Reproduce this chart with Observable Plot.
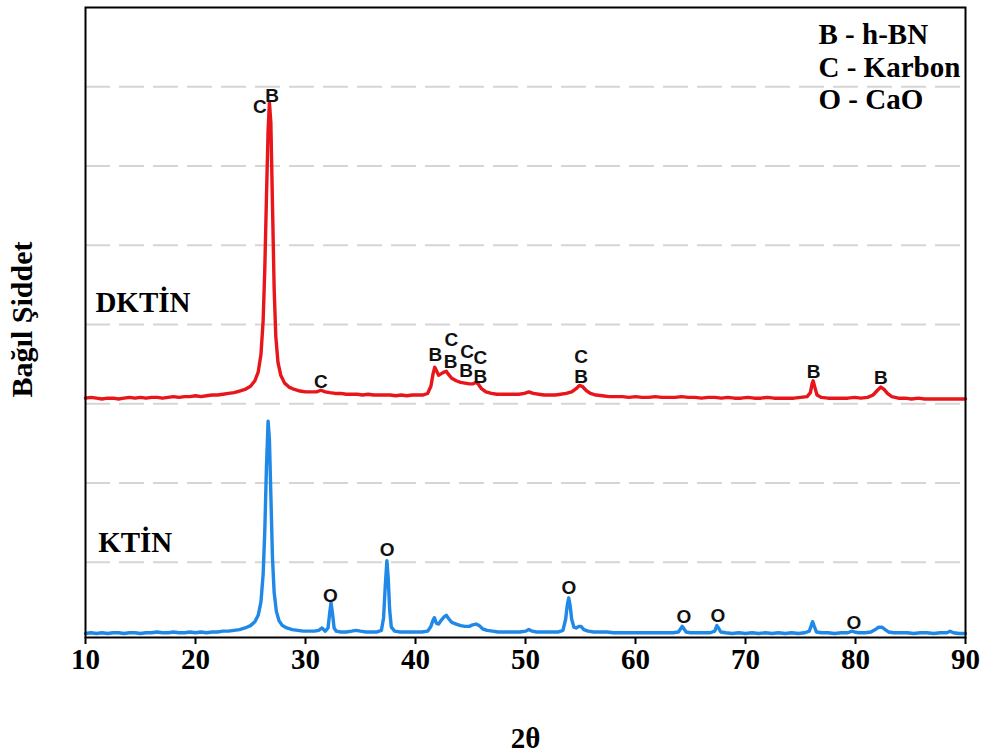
<!DOCTYPE html>
<html>
<head>
<meta charset="utf-8">
<script src="https://cdn.jsdelivr.net/npm/d3@7"></script>
<script src="https://cdn.jsdelivr.net/npm/@observablehq/plot@0.6"></script>
<style>
  html, body { margin: 0; padding: 0; background: #fff; }
</style>
</head>
<body>
<div id="chart"></div>
<script>
// XRD patterns (2θ in degrees, relative intensity in stacked units)
const ktinTheta = [10.0,10.5,11.0,11.5,12.0,12.5,13.0,13.5,14.0,14.5,15.0,15.5,16.0,16.5,17.0,17.5,18.0,18.5,19.0,19.5,20.0,20.5,21.0,21.5,22.0,22.5,23.0,23.5,24.0,24.5,25.0,25.4,25.7,25.95,26.15,26.3,26.45,26.6,26.72,26.85,27.0,27.15,27.35,27.6,27.9,28.3,28.8,29.3,29.8,30.3,30.8,31.2,31.5,31.8,32.05,32.2,32.32,32.45,32.6,32.8,33.2,33.7,34.2,34.6,35.0,35.5,36.0,36.5,36.9,37.1,37.25,37.4,37.52,37.65,37.8,38.1,38.6,39.1,39.6,40.1,40.6,41.1,41.4,41.6,41.72,41.9,42.1,42.35,42.6,42.8,43.0,43.3,43.7,44.1,44.5,44.9,45.2,45.5,45.8,46.1,46.5,47.0,47.5,48.0,48.5,49.0,49.5,50.0,50.3,50.6,51.0,51.5,52.0,52.5,53.0,53.4,53.65,53.8,53.93,54.05,54.2,54.4,54.6,54.85,55.05,55.3,55.7,56.2,56.8,57.4,58.0,58.6,59.2,59.8,60.4,61.0,61.6,62.2,62.8,63.4,63.9,64.1,64.25,64.4,64.6,65.0,65.6,66.2,66.8,67.2,67.4,67.55,67.75,68.2,68.8,69.4,70.0,70.6,71.2,71.8,72.4,73.0,73.6,74.2,74.8,75.4,75.8,76.0,76.1,76.25,76.45,76.9,77.5,78.1,78.7,79.3,79.7,79.9,80.3,80.9,81.4,81.8,82.1,82.4,82.7,83.0,83.5,84.1,84.7,85.3,85.9,86.5,87.1,87.7,88.3,88.6,88.9,89.4,90.0];
const ktinIntensity = [0.10,0.11,0.10,0.11,0.10,0.11,0.11,0.10,0.11,0.11,0.10,0.11,0.11,0.12,0.11,0.11,0.12,0.11,0.11,0.12,0.11,0.12,0.11,0.12,0.12,0.13,0.13,0.14,0.15,0.17,0.20,0.25,0.33,0.50,0.85,1.40,2.20,2.78,2.55,1.85,1.05,0.62,0.38,0.26,0.20,0.17,0.15,0.14,0.13,0.13,0.13,0.14,0.17,0.13,0.17,0.36,0.49,0.36,0.17,0.13,0.12,0.12,0.13,0.14,0.13,0.12,0.12,0.12,0.14,0.30,0.70,1.02,0.80,0.40,0.18,0.13,0.12,0.12,0.12,0.12,0.12,0.13,0.19,0.27,0.30,0.23,0.22,0.27,0.31,0.33,0.29,0.24,0.22,0.20,0.19,0.19,0.21,0.22,0.20,0.16,0.14,0.13,0.12,0.12,0.12,0.12,0.12,0.13,0.15,0.13,0.12,0.12,0.12,0.12,0.12,0.14,0.28,0.46,0.55,0.46,0.28,0.18,0.17,0.19,0.19,0.15,0.13,0.12,0.12,0.12,0.11,0.11,0.11,0.11,0.11,0.11,0.11,0.11,0.11,0.11,0.12,0.16,0.19,0.16,0.12,0.11,0.11,0.11,0.11,0.13,0.20,0.17,0.12,0.11,0.10,0.11,0.10,0.11,0.10,0.11,0.10,0.11,0.10,0.11,0.10,0.11,0.13,0.21,0.25,0.19,0.12,0.11,0.11,0.10,0.11,0.11,0.13,0.12,0.11,0.11,0.12,0.15,0.18,0.18,0.15,0.12,0.11,0.11,0.11,0.10,0.11,0.11,0.10,0.11,0.11,0.13,0.11,0.10,0.10];

const dktinTheta = [10.0,10.5,11.0,11.5,12.0,12.5,13.0,13.5,14.0,14.5,15.0,15.5,16.0,16.5,17.0,17.5,18.0,18.5,19.0,19.5,20.0,20.5,21.0,21.5,22.0,22.5,23.0,23.5,24.0,24.5,25.0,25.4,25.7,25.95,26.15,26.3,26.45,26.6,26.72,26.85,27.0,27.15,27.3,27.5,27.75,28.1,28.5,29.0,29.5,30.0,30.5,31.0,31.4,31.8,32.2,32.7,33.2,33.7,34.2,34.7,35.2,35.7,36.2,36.7,37.2,37.7,38.2,38.7,39.2,39.7,40.2,40.7,41.1,41.4,41.6,41.75,41.9,42.1,42.35,42.6,42.8,43.0,43.3,43.7,44.1,44.5,44.9,45.2,45.5,45.7,46.0,46.4,46.9,47.4,47.9,48.4,48.9,49.4,49.9,50.3,50.7,51.2,51.7,52.2,52.7,53.2,53.7,54.2,54.6,54.9,55.15,55.5,55.9,56.4,57.0,57.6,58.2,58.8,59.4,60.0,60.6,61.2,61.8,62.4,63.0,63.6,64.2,64.8,65.4,66.0,66.6,67.2,67.8,68.4,69.0,69.6,70.2,70.8,71.4,72.0,72.6,73.2,73.8,74.4,75.0,75.6,75.9,76.05,76.15,76.3,76.5,76.9,77.5,78.1,78.7,79.3,79.9,80.5,81.1,81.6,82.0,82.3,82.6,82.9,83.3,83.9,84.5,85.1,85.7,86.3,86.9,87.5,88.1,88.7,89.3,90.0];
const dktinIntensity = [3.07,3.08,3.07,3.06,3.07,3.07,3.06,3.07,3.08,3.07,3.08,3.07,3.08,3.08,3.07,3.08,3.09,3.08,3.09,3.09,3.10,3.09,3.10,3.11,3.11,3.12,3.13,3.14,3.16,3.18,3.22,3.29,3.40,3.62,4.05,4.70,5.60,6.45,6.80,6.55,5.50,4.45,3.85,3.52,3.36,3.26,3.21,3.18,3.16,3.15,3.15,3.15,3.17,3.15,3.14,3.13,3.13,3.12,3.12,3.12,3.11,3.12,3.11,3.11,3.11,3.11,3.10,3.11,3.10,3.11,3.11,3.11,3.13,3.22,3.38,3.46,3.42,3.36,3.38,3.40,3.41,3.37,3.32,3.29,3.27,3.26,3.25,3.25,3.27,3.25,3.19,3.15,3.13,3.12,3.12,3.12,3.12,3.12,3.13,3.15,3.13,3.12,3.11,3.11,3.11,3.12,3.13,3.15,3.19,3.23,3.22,3.17,3.13,3.11,3.10,3.09,3.09,3.09,3.08,3.09,3.08,3.08,3.09,3.08,3.08,3.08,3.09,3.08,3.08,3.07,3.08,3.08,3.07,3.08,3.07,3.07,3.08,3.07,3.07,3.08,3.07,3.07,3.07,3.07,3.08,3.09,3.14,3.25,3.29,3.21,3.11,3.08,3.07,3.07,3.07,3.07,3.08,3.07,3.08,3.11,3.17,3.21,3.18,3.13,3.09,3.07,3.07,3.06,3.07,3.06,3.06,3.06,3.06,3.06,3.06,3.06];

// Phase markers above the reflections
const dktinMarks = ["C","B","C","B","C","B","C","B","C","B","C","B","B","B"];
const dktinMarkTheta = [25.84,26.97,31.4,41.8,43.25,43.2,44.7,44.6,45.9,45.9,55.06,55.06,76.2,82.3];
const dktinMarkLevel = [6.74,6.89,3.27,3.61,3.80,3.53,3.66,3.41,3.58,3.34,3.59,3.34,3.40,3.32];

const ktinMarks = ["O","O","O","O","O","O"];
const ktinMarkTheta = [32.27,37.42,53.94,64.4,67.5,79.85];
const ktinMarkLevel = [0.58,1.16,0.67,0.31,0.32,0.235];

// Sample names
const sampleNames = ["DKTİN","KTİN"];
const sampleNameTheta = [10.9,11.15];
const sampleNameLevel = [4.28,1.24];

const legendLines = ["B - h-BN","C - Karbon","O - CaO"];
const xTicks = [10,20,30,40,50,60,70,80,90];
const gridLevels = [1,2,3,4,5,6,7];

const ktin = ktinTheta.map((t, i) => ({theta: t, intensity: ktinIntensity[i]}));
const dktin = dktinTheta.map((t, i) => ({theta: t, intensity: dktinIntensity[i]}));
const dktinLabels = dktinMarks.map((m, i) => ({text: m, theta: dktinMarkTheta[i], level: dktinMarkLevel[i]}));
const ktinLabels = ktinMarks.map((m, i) => ({text: m, theta: ktinMarkTheta[i], level: ktinMarkLevel[i]}));
const names = sampleNames.map((n, i) => ({text: n, theta: sampleNameTheta[i], level: sampleNameLevel[i]}));

const serif = "'Liberation Serif', 'Times New Roman', serif";
const sans = "'Liberation Sans', Arial, sans-serif";
const red = "#e8161b";
const blue = "#2088e6";

const chart = Plot.plot({
  width: 988,
  height: 755,
  marginLeft: 85,
  marginRight: 23,
  marginTop: 7,
  marginBottom: 118,
  style: {background: "#fff"},
  x: {domain: [10, 90]},
  y: {domain: [0.05, 8], axis: null},
  marks: [
    Plot.ruleY(gridLevels, {stroke: "#d5d5d5", strokeWidth: 2, strokeDasharray: "25,9"}),
    Plot.line(ktin, {x: "theta", y: "intensity", stroke: blue, strokeWidth: 3.4, curve: "linear"}),
    Plot.line(dktin, {x: "theta", y: "intensity", stroke: red, strokeWidth: 3.4, curve: "linear"}),
    Plot.frame({stroke: "#000", strokeWidth: 2}),
    Plot.axisX(xTicks, {
      tickSize: 7, tickPadding: 4, strokeWidth: 2, stroke: "#000",
      fontSize: 29, fontFamily: serif, fontWeight: "bold", fill: "#000",
      label: null
    }),
    Plot.text(dktinLabels, {x: "theta", y: "level", text: "text", fontFamily: sans, fontWeight: "bold", fontSize: 19, fill: "#111"}),
    Plot.text(ktinLabels, {x: "theta", y: "level", text: "text", fontFamily: sans, fontWeight: "bold", fontSize: 19, fill: "#111"}),
    Plot.text(names, {x: "theta", y: "level", text: "text", textAnchor: "start", fontFamily: serif, fontWeight: "bold", fontSize: 29, fill: "#000"}),
    Plot.text([legendLines.join("\n")], {
      frameAnchor: "top-right", textAnchor: "start", lineAnchor: "top", lineHeight: 1.13,
      dx: -147, dy: 13, fontFamily: serif, fontWeight: "bold", fontSize: 29, fill: "#000"
    }),
    Plot.text(["2θ"], {frameAnchor: "bottom", lineAnchor: "middle", dy: 101, fontFamily: serif, fontWeight: "bold", fontSize: 29, fill: "#000"}),
    Plot.text(["Bağıl Şiddet"], {frameAnchor: "left", textAnchor: "middle", rotate: -90, dx: -63, dy: -3, lineAnchor: "middle", fontFamily: serif, fontWeight: "bold", fontSize: 30, fill: "#000"})
  ]
});

document.getElementById("chart").appendChild(chart);
</script>
</body>
</html>
